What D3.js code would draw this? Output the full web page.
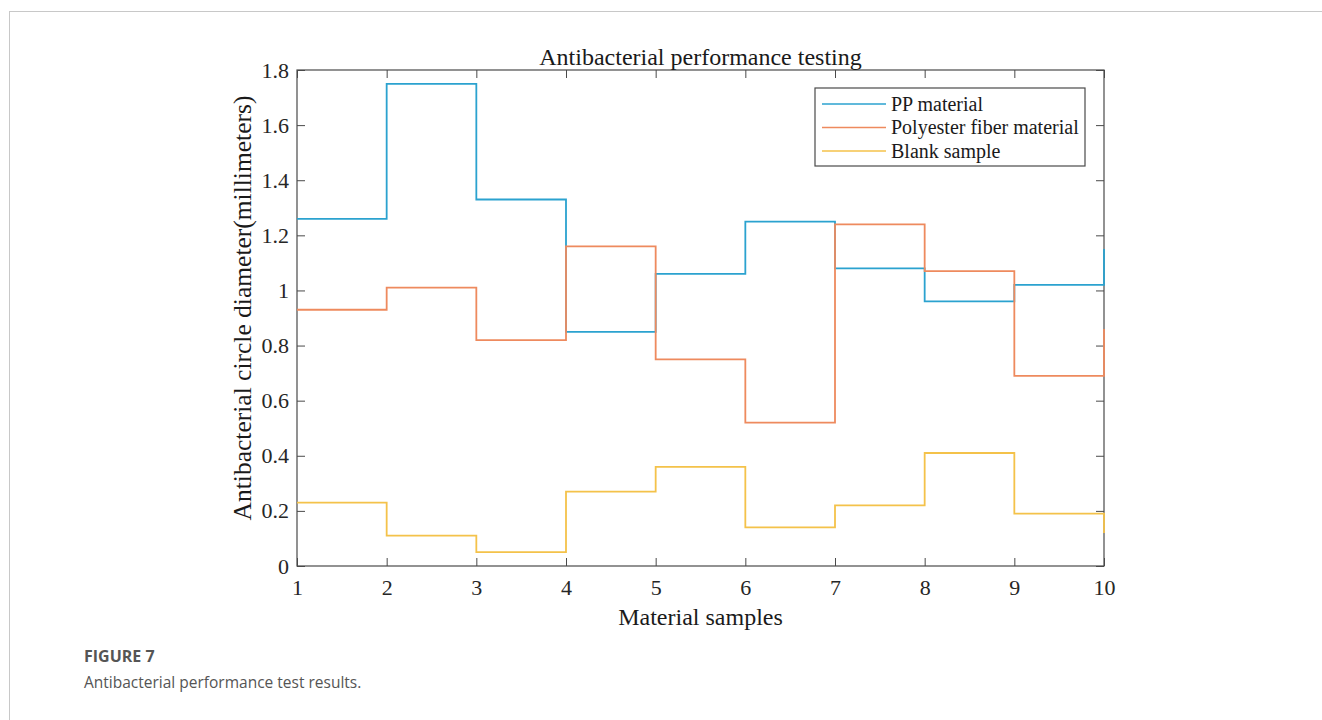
<!DOCTYPE html>
<html>
<head>
<meta charset="utf-8">
<script src="https://cdn.jsdelivr.net/npm/d3@7"></script>
<style>
  body { margin: 0; background: #fff; }
  .card { position: absolute; left: 9px; top: 11px; width: 1313px; height: 709px;
          border-left: 1px solid #c8c8c8; border-top: 1px solid #c8c8c8; }
  .cap1 { position: absolute; left: 84px; top: 645px; font: bold 16px "Open Sans", sans-serif; color: #555; }
  .cap2 { position: absolute; left: 84px; top: 671px; font: 15.5px "Open Sans", sans-serif; color: #555; }
</style>
</head>
<body>
<div class="card"></div>
<svg id="chart" width="1322" height="720" style="position:absolute;left:0;top:0"></svg>
<div class="cap1">FIGURE 7</div>
<div class="cap2">Antibacterial performance test results.</div>
<script>
var samples = [1, 2, 3, 4, 5, 6, 7, 8, 9, 10];
var ppMaterial = [1.26, 1.75, 1.33, 0.85, 1.06, 1.25, 1.08, 0.96, 1.02, 1.15];
var polyester = [0.93, 1.01, 0.82, 1.16, 0.75, 0.52, 1.24, 1.07, 0.69, 0.86];
var blank = [0.23, 0.11, 0.05, 0.27, 0.36, 0.14, 0.22, 0.41, 0.19, 0.12];
var yTicks = [0, 0.2, 0.4, 0.6, 0.8, 1, 1.2, 1.4, 1.6, 1.8];
var seriesNames = ["PP material", "Polyester fiber material", "Blank sample"];
var seriesColors = ["#2ba2cf", "#ee8a5e", "#f4c24a"];

var margin = { top: 70, right: 218, bottom: 154, left: 297 },
  width = 1322 - margin.left - margin.right,
  height = 720 - margin.top - margin.bottom;

var svg = d3.select("#chart");
var g = svg.append("g")
  .attr("transform", "translate(" + margin.left + "," + margin.top + ")");

var x = d3.scaleLinear().domain([1, 10]).range([0, width]);
var y = d3.scaleLinear().domain([0, 1.8]).range([height, 0]);

var serif = "'Liberation Serif', 'Times New Roman', serif";
var axisColor = "#4a4a4a";

// axes with inward ticks (box on)
var xb = g.append("g").attr("transform", "translate(0," + height + ")")
  .call(d3.axisBottom(x).tickValues(samples).tickSize(-8).tickPadding(13).tickFormat(d3.format("d")));
var xt = g.append("g")
  .call(d3.axisTop(x).tickValues(samples).tickSize(-8).tickFormat(""));
var yl = g.append("g")
  .call(d3.axisLeft(y).tickValues(yTicks).tickSize(-8).tickPadding(8).tickFormat(d3.format("~g")));
var yr = g.append("g").attr("transform", "translate(" + width + ",0)")
  .call(d3.axisRight(y).tickValues(yTicks).tickSize(-8).tickFormat(""));

[xb, xt, yl, yr].forEach(function (a) {
  a.select(".domain").remove();
  a.selectAll(".tick line").attr("stroke", axisColor);
  a.selectAll(".tick text")
    .attr("font-family", serif)
    .attr("font-size", "22px")
    .attr("fill", "#262626");
});

g.append("rect")
  .attr("width", width)
  .attr("height", height)
  .attr("fill", "none")
  .attr("stroke", axisColor)
  .attr("stroke-width", 1.2);

// stairs
var line = d3.line()
  .x(function (d) { return x(d[0]); })
  .y(function (d) { return y(d[1]); })
  .curve(d3.curveStepAfter);

[ppMaterial, polyester, blank].forEach(function (vals, i) {
  g.append("path")
    .datum(samples.map(function (s, j) { return [s, vals[j]]; }))
    .attr("fill", "none")
    .attr("stroke", seriesColors[i])
    .attr("stroke-width", 1.8)
    .attr("d", line);
});

// title and labels
g.append("text")
  .attr("x", width / 2)
  .attr("y", -5)
  .attr("text-anchor", "middle")
  .attr("font-family", serif)
  .attr("font-size", "24px")
  .attr("fill", "#1a1a1a")
  .text("Antibacterial performance testing");

g.append("text")
  .attr("x", width / 2)
  .attr("y", height + 59)
  .attr("text-anchor", "middle")
  .attr("font-family", serif)
  .attr("font-size", "24px")
  .attr("fill", "#1a1a1a")
  .text("Material samples");

g.append("text")
  .attr("transform", "translate(-46," + (height / 2 - 10) + ") rotate(-90)")
  .attr("text-anchor", "middle")
  .attr("font-family", serif)
  .attr("font-size", "25.5px")
  .attr("fill", "#1a1a1a")
  .text("Antibacterial circle diameter(millimeters)");

// legend
var lg = g.append("g").attr("transform", "translate(" + (815 - margin.left) + "," + (88 - margin.top) + ")");
lg.append("rect")
  .attr("width", 270)
  .attr("height", 78)
  .attr("fill", "#fff")
  .attr("stroke", axisColor)
  .attr("stroke-width", 1.2);

seriesNames.forEach(function (name, i) {
  var yy = 16 + i * 23.5;
  lg.append("line")
    .attr("x1", 7).attr("x2", 71)
    .attr("y1", yy).attr("y2", yy)
    .attr("stroke", seriesColors[i])
    .attr("stroke-width", 1.6);
  lg.append("text")
    .attr("x", 76)
    .attr("y", yy + 6.5)
    .attr("font-family", serif)
    .attr("font-size", "20px")
    .attr("fill", "#1a1a1a")
    .text(name);
});
</script>
</body>
</html>
